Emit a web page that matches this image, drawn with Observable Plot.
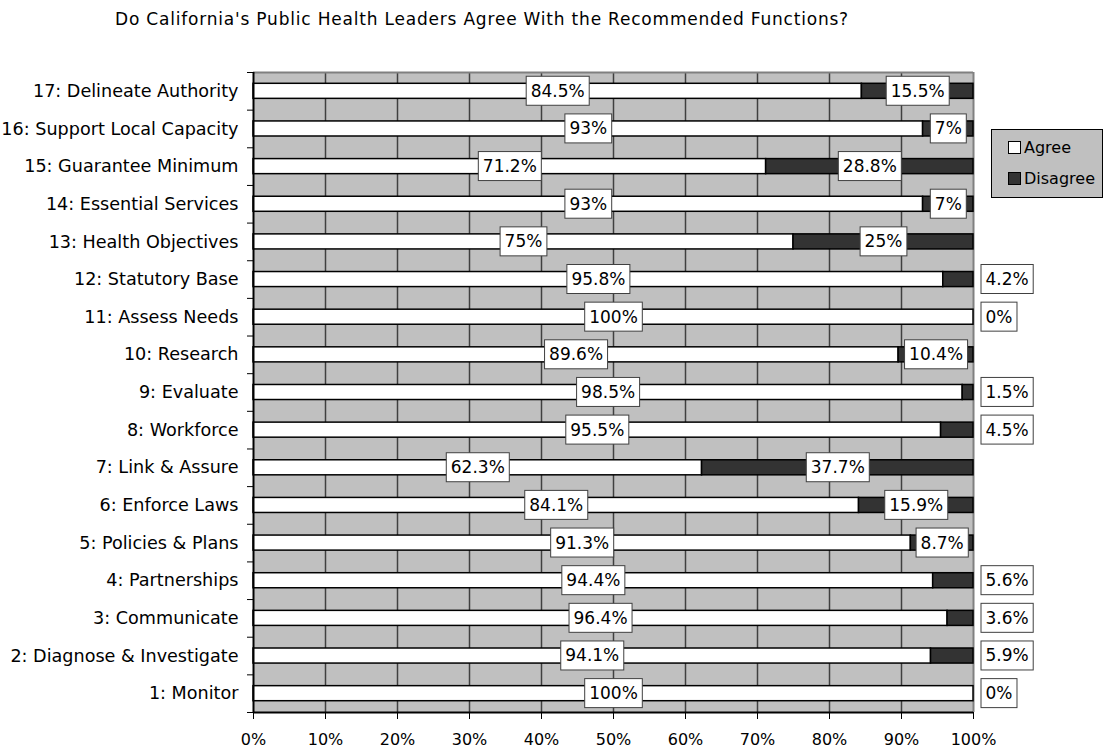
<!DOCTYPE html>
<html>
<head>
<meta charset="utf-8">
<script src="https://cdn.jsdelivr.net/npm/d3@7"></script>
<script src="https://cdn.jsdelivr.net/npm/@observablehq/plot@0.6"></script>
<style>
  html, body { margin: 0; padding: 0; background: white; }
  #wrap { position: relative; width: 1103px; height: 747px; font-family: "DejaVu Sans", Verdana, sans-serif; }
  #title { position: absolute; left: 115px; top: 9px; font-size: 17px; letter-spacing: 0.8px; color: #000; white-space: nowrap; }
  #legend { position: absolute; left: 991px; top: 129px; width: 110px; height: 67px; background: #C0C0C0; border: 1px solid #000; font-size: 16px; }
  .item { position: absolute; left: 16px; display: flex; align-items: center; }
  .sw { width: 11px; height: 11px; border: 1px solid #000; margin-right: 3px; }
</style>
</head>
<body>
<div id="wrap">
  <div id="title"></div>
  <div id="legend"></div>
</div>
<script>
const titleText = "Do California's Public Health Leaders Agree With the Recommended Functions?";
const categories = [
  "17: Delineate Authority",
  "16: Support Local Capacity",
  "15: Guarantee Minimum",
  "14: Essential Services",
  "13: Health Objectives",
  "12: Statutory Base",
  "11: Assess Needs",
  "10: Research",
  "9: Evaluate",
  "8: Workforce",
  "7: Link & Assure",
  "6: Enforce Laws",
  "5: Policies & Plans",
  "4: Partnerships",
  "3: Communicate",
  "2: Diagnose & Investigate",
  "1: Monitor"
];
const agree    = [84.5, 93, 71.2, 93, 75, 95.8, 100, 89.6, 98.5, 95.5, 62.3, 84.1, 91.3, 94.4, 96.4, 94.1, 100];
const disagree = [15.5, 7, 28.8, 7, 25, 4.2, 0, 10.4, 1.5, 4.5, 37.7, 15.9, 8.7, 5.6, 3.6, 5.9, 0];
const xTicks = [0, 10, 20, 30, 40, 50, 60, 70, 80, 90, 100];
const seriesNames = ["Agree", "Disagree"];
const seriesColors = ["#FFFFFF", "#333333"];

const W = 1103, H = 747, mL = 253, mR = 130, mT = 72, mB = 35;
const step = (H - mT - mB) / categories.length;

const rows = categories.map((c, i) => ({cat: c, agree: agree[i], disagree: disagree[i]}));
const inside = rows.filter(d => d.disagree >= 6.5);
const outside = rows.filter(d => d.disagree < 6.5);

const chart = Plot.plot({
  width: W, height: H,
  marginLeft: mL, marginRight: mR, marginTop: mT, marginBottom: mB,
  style: {fontFamily: "DejaVu Sans, Verdana, sans-serif", fontSize: "17px", color: "#000", background: "transparent", overflow: "visible"},
  x: {domain: [0, 100], label: null},
  y: {domain: categories, paddingInner: 0.6, paddingOuter: 0.3, round: false, label: null},
  marks: [
    Plot.frame({fill: "#C0C0C0", stroke: null}),
    Plot.ruleX(xTicks.slice(1, -1), {stroke: "#404040", strokeWidth: 1.5}),
    Plot.ruleX([100], {stroke: "#808080", strokeWidth: 2}),
    Plot.ruleY([categories[0]], {dy: -step / 2, stroke: "#808080", strokeWidth: 2}),
    Plot.barX(rows, {y: "cat", x1: 0, x2: "agree", fill: seriesColors[0], stroke: "#000", strokeWidth: 1.5}),
    Plot.barX(rows.filter(d => d.disagree > 0), {y: "cat", x1: "agree", x2: d => d.agree + d.disagree, fill: seriesColors[1], stroke: "#000", strokeWidth: 1.5}),
    Plot.ruleX([0], {stroke: "#000", strokeWidth: 2}),
    Plot.ruleY([categories[categories.length - 1]], {dy: step / 2, stroke: "#000", strokeWidth: 2}),
    Plot.ruleY(categories, {dy: step / 2, x1: 0, x2: 0, insetLeft: -6, stroke: "#000"}),
    Plot.ruleY([categories[0]], {dy: -step / 2, x1: 0, x2: 0, insetLeft: -6, stroke: "#000"}),
    Plot.axisY({tickSize: 0, tickPadding: 15, fontSize: 17.6, label: null}),
    Plot.axisX({ticks: xTicks, tickFormat: d => d + "%", tickSize: 7, tickPadding: 14, fontSize: 16, label: null, stroke: "#000"}),
    Plot.text(rows, {y: "cat", x: d => d.agree / 2, text: d => d.agree + "%", fill: "#000"}),
    Plot.text(inside, {y: "cat", x: d => d.agree + d.disagree / 2, text: d => d.disagree + "%", fill: "#000"}),
    Plot.text(outside, {y: "cat", x: 100, dx: 12, textAnchor: "start", text: d => d.disagree + "%", fill: "#000"})
  ]
});

document.getElementById("wrap").prepend(chart);
chart.style.position = "absolute";
chart.style.left = "0px";
chart.style.top = "0px";

// label boxes
chart.querySelectorAll('g[aria-label="text"] text').forEach(t => {
  const b = t.getBBox();
  const r = document.createElementNS("http://www.w3.org/2000/svg", "rect");
  const cy = b.y + b.height / 2;
  r.setAttribute("x", b.x - 4.5);
  r.setAttribute("y", cy - 14.5);
  r.setAttribute("width", b.width + 9);
  r.setAttribute("height", 29);
  r.setAttribute("fill", "#fff");
  r.setAttribute("stroke", "#404040");
  r.setAttribute("stroke-width", 1);
  const tr = t.getAttribute("transform");
  if (tr) r.setAttribute("transform", tr);
  t.parentNode.insertBefore(r, t);
});

document.getElementById("title").textContent = titleText;
const lg = document.getElementById("legend");
seriesNames.forEach((n, i) => {
  const it = document.createElement("div");
  it.className = "item";
  it.style.top = (i === 0 ? 8 : 39) + "px";
  const sw = document.createElement("div");
  sw.className = "sw";
  sw.style.background = seriesColors[i];
  const tx = document.createElement("span");
  tx.textContent = n;
  it.append(sw, tx);
  lg.append(it);
});
</script>
</body>
</html>
